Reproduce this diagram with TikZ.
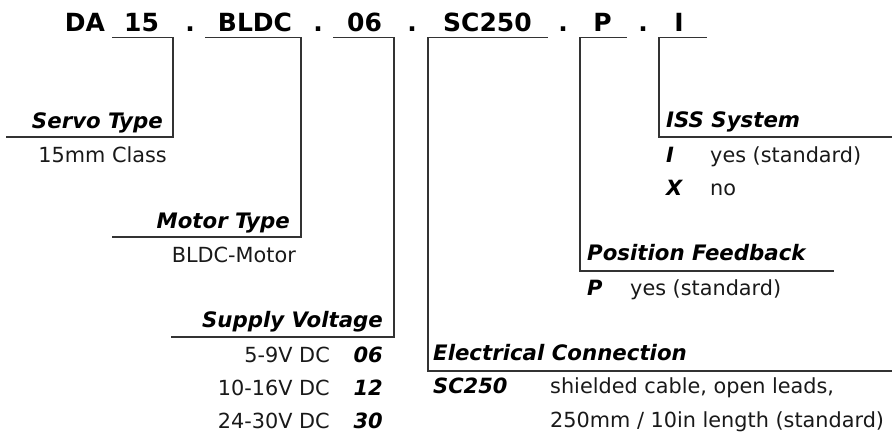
\documentclass[tikz,border=0pt]{standalone}
\usepackage{fontspec}
\setmainfont{DejaVu Sans}
\usepackage{tikz}
\usetikzlibrary{arrows}

\tikzset{
  code/.style={font=\fontsize{25}{30}\selectfont\bfseries,anchor=base,inner sep=0pt},
  lbl/.style={font=\fontsize{21.3}{25}\selectfont\bfseries\itshape,inner sep=0pt},
  txt/.style={font=\fontsize{20.8}{25}\selectfont,color=black!90,inner sep=0pt},
  key/.style={font=\fontsize{21}{25}\selectfont\bfseries\itshape,inner sep=0pt},
  bracket/.style={line width=1.6pt,color=black!80}
}

\begin{document}
\begin{tikzpicture}[line cap=rect,line join=miter,x=1pt,y=-1pt]
			\useasboundingbox (0,0) rectangle (892,432);
			% order code
			\node[code] (da) at (85,31) {DA};
			\node[code] (cls) at (141.5,31) {15};
			\node[code] (d1) at (190,31) {.};
			\node[code] (mot) at (255,31) {BLDC};
			\node[code] (d2) at (318,31) {.};
			\node[code] (volt) at (364.5,31) {06};
			\node[code] (d3) at (412,31) {.};
			\node[code] (con) at (487.5,31) {SC250};
			\node[code] (d4) at (563,31) {.};
			\node[code] (fb) at (602.5,31) {P};
			\node[code] (d5) at (643,31) {.};
			\node[code] (iss) at (679,31) {I};
			% bracket corners
			\coordinate (c1a) at (113,37.5);
			\coordinate (c1b) at (173,37.5);
			\coordinate (c1c) at (173,137);
			\coordinate (c1d) at (7,137);
			\coordinate (c2a) at (206,37.5);
			\coordinate (c2b) at (301,37.5);
			\coordinate (c2c) at (301,237);
			\coordinate (c2d) at (113,237);
			\coordinate (c3a) at (334,37.5);
			\coordinate (c3b) at (394,37.5);
			\coordinate (c3c) at (394,337);
			\coordinate (c3d) at (172,337);
			\coordinate (c4a) at (547,37.5);
			\coordinate (c4b) at (428,37.5);
			\coordinate (c4c) at (428,371);
			\coordinate (c4d) at (892,371);
			\coordinate (c5a) at (626,37.5);
			\coordinate (c5b) at (580,37.5);
			\coordinate (c5c) at (580,271);
			\coordinate (c5d) at (833,271);
			\coordinate (c6a) at (706,37.5);
			\coordinate (c6b) at (659,37.5);
			\coordinate (c6c) at (659,137);
			\coordinate (c6d) at (892,137);
			\draw [bracket] (c1a) -- (c1b) -- (c1c) -- (c1d);
			\draw [bracket] (c2a) -- (c2b) -- (c2c) -- (c2d);
			\draw [bracket] (c3a) -- (c3b) -- (c3c) -- (c3d);
			\draw [bracket] (c4a) -- (c4b) -- (c4c) -- (c4d);
			\draw [bracket] (c5a) -- (c5b) -- (c5c) -- (c5d);
			\draw [bracket] (c6a) -- (c6b) -- (c6c) -- (c6d);
			% servo type
			\node[lbl,anchor=base east] (servo) at (163,128) {Servo Type};
			\node[txt,anchor=base east] (servoval) at (167,162) {15mm Class};
			% motor type
			\node[lbl,anchor=base east] (motor) at (290,228) {Motor Type};
			\node[txt,anchor=base east] (motorval) at (296,262) {BLDC-Motor};
			% supply voltage
			\node[lbl,anchor=base east] (supply) at (383,327) {Supply Voltage};
			\node[key,anchor=base east] (k06) at (383,362) {06};
			\node[key,anchor=base east] (k12) at (383,395) {12};
			\node[key,anchor=base east] (k30) at (383,428) {30};
			\node[txt,anchor=base east] (v06) at (330,362) {5-9V DC};
			\node[txt,anchor=base east] (v12) at (330,395) {10-16V DC};
			\node[txt,anchor=base east] (v30) at (330,428) {24-30V DC};
			% electrical connection
			\node[lbl,anchor=base west] (elec) at (433,360) {Electrical Connection};
			\node[key,anchor=base west] (ksc) at (433,393) {SC250};
			\node[txt,anchor=base west] (sc1) at (550,393) {shielded cable, open leads,};
			\node[txt,anchor=base west] (sc2) at (550,427) {250mm / 10in length (standard)};
			% position feedback
			\node[lbl,anchor=base west] (pos) at (587,260) {Position Feedback};
			\node[key,anchor=base west] (kp) at (587,295) {P};
			\node[txt,anchor=base west] (pval) at (630,295) {yes (standard)};
			% iss system
			\node[lbl,anchor=base west] (isslbl) at (666,127) {ISS System};
			\node[key,anchor=base west] (ki) at (666,162) {I};
			\node[txt,anchor=base west] (ival) at (710,162) {yes (standard)};
			\node[key,anchor=base west] (kx) at (666,195) {X};
			\node[txt,anchor=base west] (xval) at (710,195) {no};
\end{tikzpicture}
\end{document}
